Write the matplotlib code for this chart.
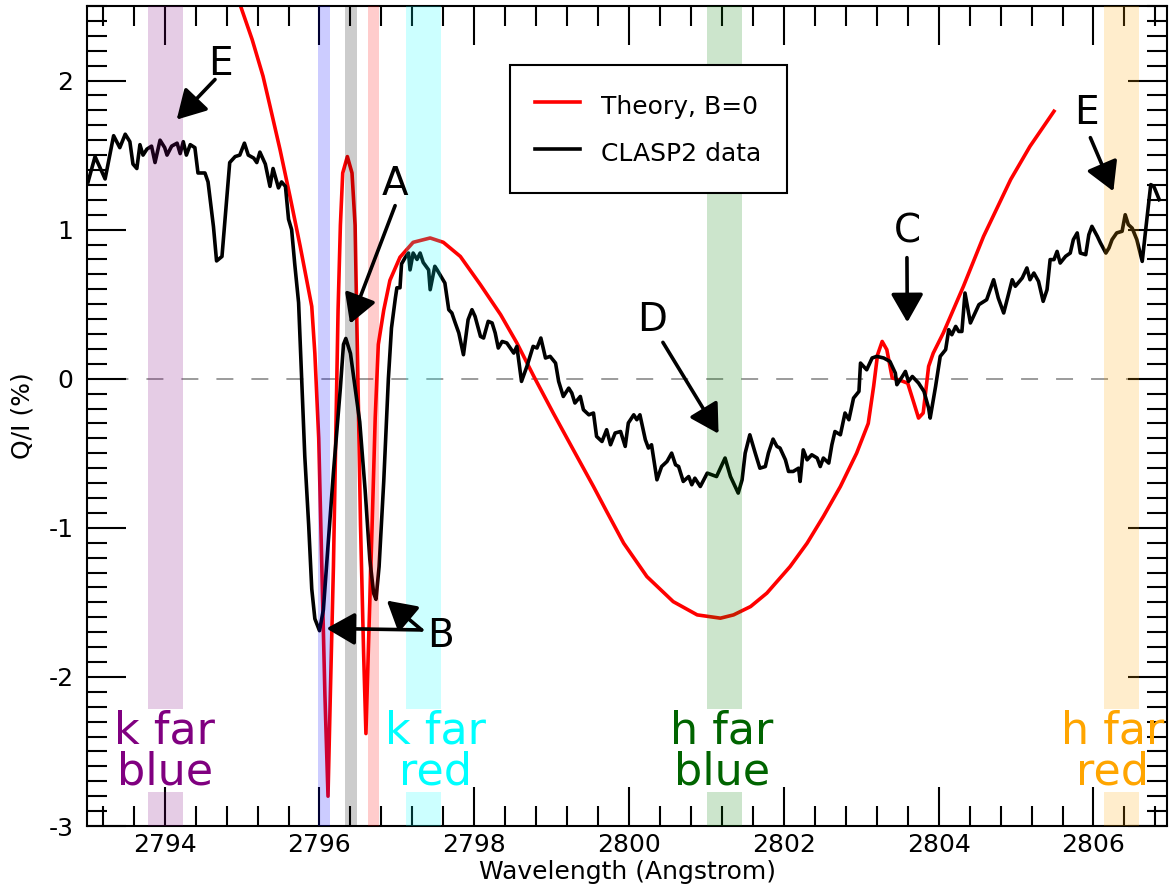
import numpy as np
import matplotlib
matplotlib.use('Agg')
import matplotlib.pyplot as plt
from matplotlib.ticker import MultipleLocator

plt.rcParams['axes.unicode_minus'] = False

# CLASP2 Q/I (%) vs wavelength (Angstrom)
wl_obs = [2793.01, 2793.10, 2793.23, 2793.34, 2793.42, 2793.49, 2793.55, 2793.59, 2793.64, 2793.68,
          2793.72, 2793.77, 2793.83, 2793.875, 2793.94, 2794.00, 2794.03, 2794.09, 2794.16, 2794.20,
          2794.24, 2794.28, 2794.33, 2794.39, 2794.43, 2794.52, 2794.56, 2794.63, 2794.67, 2794.74,
          2794.80, 2794.84, 2794.91, 2794.97, 2795.03, 2795.08, 2795.15, 2795.19, 2795.23, 2795.30,
          2795.36, 2795.40, 2795.47, 2795.51, 2795.56, 2795.60, 2795.64, 2795.68, 2795.73, 2795.77,
          2795.81, 2795.86, 2795.90, 2795.94, 2796.00, 2796.05, 2796.11, 2796.18, 2796.27, 2796.31,
          2796.34, 2796.40, 2796.46, 2796.52, 2796.59, 2796.65, 2796.70, 2796.73, 2796.77, 2796.83,
          2796.89, 2796.93, 2796.98, 2797.00, 2797.04, 2797.06, 2797.11, 2797.15, 2797.17, 2797.21,
          2797.26, 2797.30, 2797.34, 2797.41, 2797.43, 2797.49, 2797.52, 2797.62, 2797.67, 2797.71,
          2797.75, 2797.80, 2797.86, 2797.92, 2797.97, 2798.01, 2798.08, 2798.12, 2798.18, 2798.23,
          2798.27, 2798.31, 2798.36, 2798.42, 2798.51, 2798.55, 2798.61, 2798.68, 2798.76, 2798.81,
          2798.86, 2798.92, 2798.98, 2799.05, 2799.09, 2799.15, 2799.22, 2799.26, 2799.30, 2799.37,
          2799.41, 2799.48, 2799.54, 2799.58, 2799.65, 2799.71, 2799.76, 2799.82, 2799.89, 2799.95,
          2799.99, 2800.06, 2800.10, 2800.14, 2800.21, 2800.25, 2800.29, 2800.36, 2800.42, 2800.49,
          2800.55, 2800.60, 2800.64, 2800.70, 2800.77, 2800.81, 2800.85, 2800.92, 2801.01, 2801.13,
          2801.20, 2801.24, 2801.31, 2801.37, 2801.41, 2801.46, 2801.50, 2801.56, 2801.63, 2801.69,
          2801.76, 2801.80, 2801.86, 2801.91, 2801.95, 2802.02, 2802.06, 2802.12, 2802.19, 2802.21,
          2802.25, 2802.30, 2802.36, 2802.43, 2802.47, 2802.51, 2802.58, 2802.62, 2802.66, 2802.73,
          2802.79, 2802.84, 2802.90, 2802.97, 2802.99, 2803.07, 2803.14, 2803.20, 2803.29, 2803.37,
          2803.44, 2803.46, 2803.53, 2803.57, 2803.61, 2803.66, 2803.74, 2803.81, 2803.87, 2803.89,
          2803.96, 2804.02, 2804.09, 2804.13, 2804.17, 2804.22, 2804.26, 2804.30, 2804.34, 2804.41,
          2804.52, 2804.62, 2804.71, 2804.77, 2804.84, 2804.95, 2804.99, 2805.08, 2805.14, 2805.18,
          2805.23, 2805.29, 2805.35, 2805.40, 2805.44, 2805.49, 2805.53, 2805.57, 2805.64, 2805.70,
          2805.74, 2805.79, 2805.83, 2805.90, 2805.94, 2805.98, 2806.05, 2806.09, 2806.16, 2806.20,
          2806.24, 2806.30, 2806.37, 2806.41, 2806.45, 2806.50, 2806.56, 2806.63, 2806.67, 2806.74,
          2806.78, 2806.85]
qi_obs = [1.32, 1.49, 1.34, 1.63, 1.55, 1.64, 1.59, 1.44, 1.41, 1.57,
          1.50, 1.54, 1.56, 1.45, 1.60, 1.55, 1.50, 1.56, 1.58, 1.51,
          1.59, 1.50, 1.57, 1.55, 1.38, 1.38, 1.32, 1.02, 0.79, 0.82,
          1.20, 1.45, 1.49, 1.50, 1.58, 1.50, 1.48, 1.45, 1.52, 1.44,
          1.29, 1.41, 1.28, 1.32, 1.29, 1.07, 1.00, 0.77, 0.51, 0.00,
          -0.52, -0.98, -1.41, -1.61, -1.69, -1.55, -1.12, -0.63, -0.06, 0.23,
          0.27, 0.17, -0.06, -0.29, -0.75, -1.21, -1.44, -1.48, -1.26, -0.69,
          0.00, 0.34, 0.54, 0.61, 0.61, 0.77, 0.815, 0.843, 0.73, 0.843,
          0.80, 0.843, 0.78, 0.73, 0.597, 0.754, 0.73, 0.642, 0.463, 0.441,
          0.38, 0.307, 0.161, 0.396, 0.463, 0.418, 0.284, 0.273, 0.385, 0.374,
          0.307, 0.206, 0.25, 0.24, 0.172, 0.217, -0.018, 0.083, 0.217, 0.206,
          0.273, 0.139, 0.15, 0.105, -0.018, -0.119, -0.063, -0.096, -0.163, -0.119,
          -0.208, -0.242, -0.23, -0.387, -0.421, -0.342, -0.443, -0.364, -0.354, -0.454,
          -0.297, -0.242, -0.275, -0.242, -0.409, -0.465, -0.443, -0.678, -0.589, -0.555,
          -0.499, -0.577, -0.589, -0.689, -0.656, -0.711, -0.667, -0.723, -0.633, -0.656,
          -0.577, -0.532, -0.656, -0.723, -0.767, -0.678, -0.499, -0.376, -0.499, -0.60,
          -0.589, -0.499, -0.405, -0.454, -0.465, -0.544, -0.622, -0.622, -0.60, -0.689,
          -0.477, -0.544, -0.51, -0.532, -0.589, -0.532, -0.566, -0.443, -0.354, -0.376,
          -0.23, -0.275, -0.13, -0.085, 0.105, 0.06, 0.139, 0.15, 0.139, 0.116,
          0.038, -0.04, 0.015, 0.049, -0.018, 0.015, -0.029, -0.085, -0.197, -0.264,
          -0.052, 0.15, 0.195, 0.329, 0.295, 0.351, 0.317, 0.317, 0.575, 0.374,
          0.497, 0.53, 0.664, 0.541, 0.441, 0.664, 0.62, 0.676, 0.743, 0.664,
          0.709, 0.653, 0.519, 0.597, 0.799, 0.799, 0.854, 0.776, 0.821, 0.843,
          0.933, 0.978, 0.843, 0.832, 0.966, 1.022, 0.955, 0.911, 0.843, 0.877,
          0.933, 0.978, 0.989, 1.10, 1.034, 1.01, 0.933, 0.787, 0.978, 1.302,
          1.29, 1.201]

# Theory, B=0
wl_thy = [2794.90, 2794.98, 2795.13, 2795.27, 2795.36, 2795.49, 2795.62, 2795.75, 2795.90, 2795.94,
          2795.99, 2796.03, 2796.07, 2796.11, 2796.14, 2796.18, 2796.22, 2796.24, 2796.27, 2796.30,
          2796.36, 2796.42, 2796.46, 2796.48, 2796.50, 2796.53, 2796.57, 2796.60, 2796.63, 2796.68,
          2796.72, 2796.76, 2796.83, 2796.91, 2797.04, 2797.21, 2797.43, 2797.60, 2797.82, 2798.08,
          2798.34, 2798.55, 2798.77, 2799.02, 2799.28, 2799.54, 2799.71, 2799.93, 2800.23, 2800.57,
          2800.88, 2801.18, 2801.35, 2801.57, 2801.78, 2802.08, 2802.30, 2802.51, 2802.73, 2802.94,
          2803.09, 2803.16, 2803.21, 2803.27, 2803.33, 2803.40, 2803.50, 2803.60, 2803.68, 2803.74,
          2803.80, 2803.87, 2803.93, 2804.06, 2804.32, 2804.58, 2804.93, 2805.18, 2805.49]
qi_thy = [2.75, 2.50, 2.275, 2.03, 1.83, 1.537, 1.22, 0.89, 0.485, 0.17,
          -0.40, -1.26, -2.12, -2.80, -2.12, -1.26, -0.11, 0.46, 1.03, 1.38,
          1.49, 1.38, 1.03, 0.46, -0.11, -0.98, -1.84, -2.38, -1.84, -0.98,
          -0.26, 0.23, 0.46, 0.66, 0.815, 0.915, 0.944, 0.915, 0.82, 0.63,
          0.43, 0.24, 0.015, -0.23, -0.477, -0.723, -0.89, -1.103, -1.327, -1.495,
          -1.584, -1.606, -1.584, -1.528, -1.438, -1.26, -1.103, -0.924, -0.723, -0.499,
          -0.30, -0.05, 0.16, 0.25, 0.195, 0.005, -0.01, -0.03, -0.163, -0.264,
          -0.23, 0.083, 0.172, 0.307, 0.62, 0.955, 1.336, 1.559, 1.794]

# shaded wavelength windows
band_lo = [2793.78, 2795.98, 2796.33, 2796.63, 2797.12, 2801.01, 2806.14]
band_hi = [2794.24, 2796.13, 2796.48, 2796.77, 2797.57, 2801.46, 2806.59]
band_col = ['purple', 'blue', 'black', 'red', 'cyan', 'green', 'orange']
band_gap = [True, False, False, False, True, True, True]

far_text = ['k far\nblue', 'k far\nred', 'h far\nblue', 'h far\nred']
far_x = [2794.0, 2797.5, 2801.2, 2806.25]
far_col = ['purple', 'cyan', 'darkgreen', 'orange']

# letter annotations: label, text pos, list of (tail, head)
letters = ['E', 'A', 'B', 'C', 'D', 'E']
letter_xy = [(2794.715, 2.04), (2796.977, 1.231), (2797.56, -1.797),
             (2803.59, 0.911), (2800.295, 0.322), (2805.908, 1.709)]
letter_arrows = [[((2794.65, 2.007), (2794.155, 1.738))],
                 [((2796.977, 1.161), (2796.395, 0.369))],
                 [((2797.32, -1.685), (2796.09, -1.675)), ((2797.32, -1.685), (2796.87, -1.488))],
                 [((2803.59, 0.812), (2803.595, 0.378))],
                 [((2800.437, 0.244), (2801.156, -0.369))],
                 [((2805.96, 1.617), (2806.257, 1.257))]]

xlo, xhi = 2793.0, 2806.95
ylo, yhi = -3.0, 2.5

fig = plt.figure(figsize=(11.72, 8.92), dpi=100)
ax = fig.add_axes([87.3 / 1172, 66 / 892, (1167 - 87.3) / 1172, 820 / 892])

ax.plot(wl_thy, qi_thy, color='red', lw=2.6, label='Theory, B=0', zorder=2)
ax.plot(wl_obs, qi_obs, color='black', lw=2.6, label='CLASP2 data', zorder=2)
ax.axhline(0, color='gray', lw=1.1, ls=(6.9, (11.1, 11.8)), zorder=1)

g0 = (-2.772 - ylo) / (yhi - ylo)
g1 = (-2.215 - ylo) / (yhi - ylo)
for lo, hi, c, gap in zip(band_lo, band_hi, band_col, band_gap):
    if gap:
        ax.axvspan(lo, hi, ymin=0, ymax=g0, color=c, alpha=0.2, lw=0, zorder=3)
        ax.axvspan(lo, hi, ymin=g1, ymax=1, color=c, alpha=0.2, lw=0, zorder=3)
    else:
        ax.axvspan(lo, hi, color=c, alpha=0.2, lw=0, zorder=3)

for t, x, c in zip(far_text, far_x, far_col):
    ax.text(x, -2.5, t, color=c, fontsize=32, ha='center', va='center',
            linespacing=0.95, zorder=4)

for lab, (tx, ty), arrs in zip(letters, letter_xy, letter_arrows):
    ax.text(tx, ty, lab, fontsize=28, ha='center', va='baseline', zorder=5)
    for tail, head in arrs:
        ax.annotate('', xy=head, xytext=tail,
                    arrowprops=dict(arrowstyle='-|>,head_length=0.7,head_width=0.4',
                                    mutation_scale=25, lw=2.6, color='black',
                                    shrinkA=0, shrinkB=0),
                    zorder=5)

ax.set_xlim(xlo, xhi)
ax.set_ylim(ylo, yhi)
ax.xaxis.set_major_locator(MultipleLocator(2))
ax.xaxis.set_minor_locator(MultipleLocator(0.4))
ax.yaxis.set_major_locator(MultipleLocator(1))
ax.yaxis.set_minor_locator(MultipleLocator(0.1))
ax.tick_params(which='both', direction='in', top=True, right=True, width=1.5)
ax.tick_params(which='major', length=28)
ax.tick_params(which='minor', length=14.4)
ax.tick_params(axis='x', which='major', labelsize=18, pad=5)
ax.tick_params(axis='y', which='major', labelsize=18, pad=10)
for s in ax.spines.values():
    s.set_linewidth(1.5)

ax.set_xlabel('Wavelength (Angstrom)', fontsize=18, labelpad=2)
ax.set_ylabel('Q/I (%)', fontsize=18, labelpad=10)

leg = ax.legend(loc='upper left', bbox_to_anchor=(0.3915, 0.928), borderaxespad=0,
                fontsize=18, fancybox=False, framealpha=1, edgecolor='black',
                handlelength=1.8, handleheight=1.5, labelspacing=0.66,
                borderpad=1.0, handletextpad=0.85)
leg.get_frame().set_linewidth(1.5)
leg.set_zorder(6)

fig.savefig('out.png', dpi=100)
